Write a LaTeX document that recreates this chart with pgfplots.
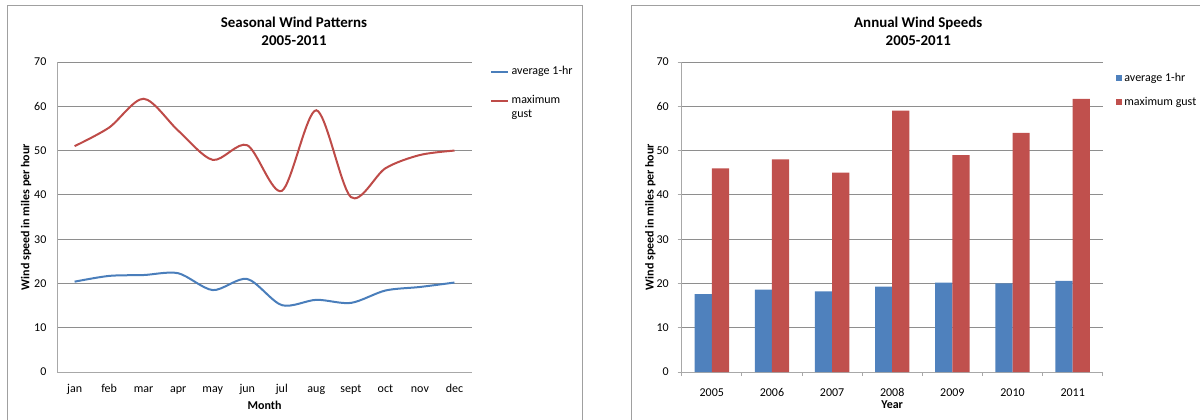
\documentclass[border=0pt]{standalone}
\usepackage{fontspec}
\setmainfont{Carlito}
\usepackage{pgfplots}
\pgfplotsset{compat=1.18}

\definecolor{avgline}{HTML}{4A7EBB}
\definecolor{gustline}{HTML}{BE4B48}
\definecolor{avgbar}{HTML}{4F81BD}
\definecolor{gustbar}{HTML}{C0504D}
\definecolor{gridgray}{HTML}{8E8E8E}
\definecolor{axisgray}{HTML}{A8A8A8}
\definecolor{framegray}{HTML}{A0A0A0}

\newcommand{\chartfont}{\fontsize{9}{10.5}\selectfont}
\newcommand{\titlefont}{\fontsize{11.2}{13.5}\selectfont\bfseries}

\pgfplotsset{
  windaxis/.style={
    scale only axis,
    height=232.5pt,
    ymin=0, ymax=70, ytick={0,10,...,70},
    axis x line*=bottom, axis y line*=left,
    axis line style={axisgray, line width=0.75pt},
    ymajorgrids, grid style={gridgray, line width=0.75pt},
    font=\chartfont,
    /pgf/number format/assume math mode=true,
    ylabel={\bfseries Wind speed in miles per hour},
    xlabel style={at={(axis description cs:0.5,-0.1065)}, anchor=center, font=\chartfont\bfseries},
    ylabel style={anchor=center, font=\chartfont\bfseries},
    xticklabel style={anchor=base, yshift=-15pt, inner sep=0pt},
    legend style={draw=none, fill=none, inner sep=0pt, outer sep=0pt,
      anchor=north west, cells={anchor=base west}, font=\chartfont},
  },
}

\begin{document}
\begin{tikzpicture}
\useasboundingbox (0,0) rectangle (900pt,314.25pt);
\clip (0,0) rectangle (900pt,314.25pt);

% chart frames
\draw[framegray, line width=0.75pt] (5.7pt,-5pt) -- (5.7pt,310pt) -- (436.7pt,310pt) -- (436.7pt,-5pt);
\draw[framegray, line width=0.75pt] (473.25pt,-5pt) -- (473.25pt,310pt) -- (905pt,310pt);

% chart titles
\node[align=center, font=\titlefont] at (220.5pt,291pt) {Seasonal Wind Patterns\\2005-2011};
\node[align=center, font=\titlefont] at (688.7pt,291pt) {Annual Wind Speeds\\2005-2011};

% seasonal pattern (smoothed lines)
\begin{axis}[windaxis,
  at={(43pt,35.25pt)}, anchor=south west,
  width=310.8pt,
  xmin=-0.5, xmax=11.5,
  xtick={0,...,11},
  xticklabels={jan,feb,mar,apr,may,jun,jul,aug,sept,oct,nov,dec},
  tick style={draw=none},
  xlabel={Month},
  ylabel style={at={(axis description cs:-0.0755,0.5)}},
  yticklabel style={anchor=east, inner sep=0pt, xshift=-8pt},
  legend style={at={(rel axis cs:1,1)}, xshift=13.7pt, yshift=-1pt,
    row sep=10pt, column sep=0pt},
]
\addplot[avgline, line width=1.5pt, smooth,
  legend image code/.code={\draw[avgline, line width=1.5pt] (0pt,2pt) -- (12.75pt,2pt);}]
  coordinates {(0,20.4) (1,21.7) (2,21.9) (3,22.3) (4,18.5) (5,21.0)
               (6,15.1) (7,16.3) (8,15.6) (9,18.4) (10,19.2) (11,20.2)};
\addlegendentry{average 1-hr}
\addplot[gustline, line width=1.5pt, smooth,
  legend image code/.code={\draw[gustline, line width=1.5pt] (0pt,2pt) -- (12.75pt,2pt);}]
  coordinates {(0,51.0) (1,55.2) (2,61.7) (3,54.5) (4,47.9) (5,51.2)
               (6,40.9) (7,59.1) (8,39.5) (9,46.0) (10,49.0) (11,50.0)};
\addlegendentry{\smash{\rlap{\raisebox{-10.75pt}{gust}}}maximum}
\end{axis}

% annual speeds (grouped bars)
\begin{axis}[windaxis,
  at={(511.3pt,35.25pt)}, anchor=south west,
  width=315.75pt,
  xmin=-0.5, xmax=6.5,
  xtick={0,...,6},
  xticklabels={2005,2006,2007,2008,2009,2010,2011},
  minor xtick={-0.5,0.5,...,6.5},
  major x tick style={draw=none},
  minor x tick style={axisgray, line width=0.75pt},
  major y tick style={axisgray, line width=0.75pt},
  tick align=outside, major tick length=3pt, minor tick length=3pt,
  xlabel={Year},
  ylabel style={at={(axis description cs:-0.0743,0.5)}},
  yticklabel style={anchor=east, inner sep=0pt, xshift=-6.5pt},
  ybar=0pt, bar width=12.9pt,
  legend style={at={(rel axis cs:1,1)}, xshift=9.75pt, yshift=-6pt,
    row sep=6.4pt, column sep=0pt},
]
\addplot[fill=avgbar, draw=none,
  legend image code/.code={\fill[avgbar] (0pt,0.1pt) rectangle (4.5pt,4.3pt);}]
  coordinates {(0,17.6) (1,18.6) (2,18.2) (3,19.3) (4,20.2) (5,20.0) (6,20.6)};
\addlegendentry{average 1-hr}
\addplot[fill=gustbar, draw=none,
  legend image code/.code={\fill[gustbar] (0pt,0.1pt) rectangle (4.5pt,4.3pt);}]
  coordinates {(0,46.0) (1,48.0) (2,45.0) (3,59.0) (4,49.0) (5,54.0) (6,61.7)};
\addlegendentry{maximum gust}
\end{axis}
\end{tikzpicture}
\end{document}
